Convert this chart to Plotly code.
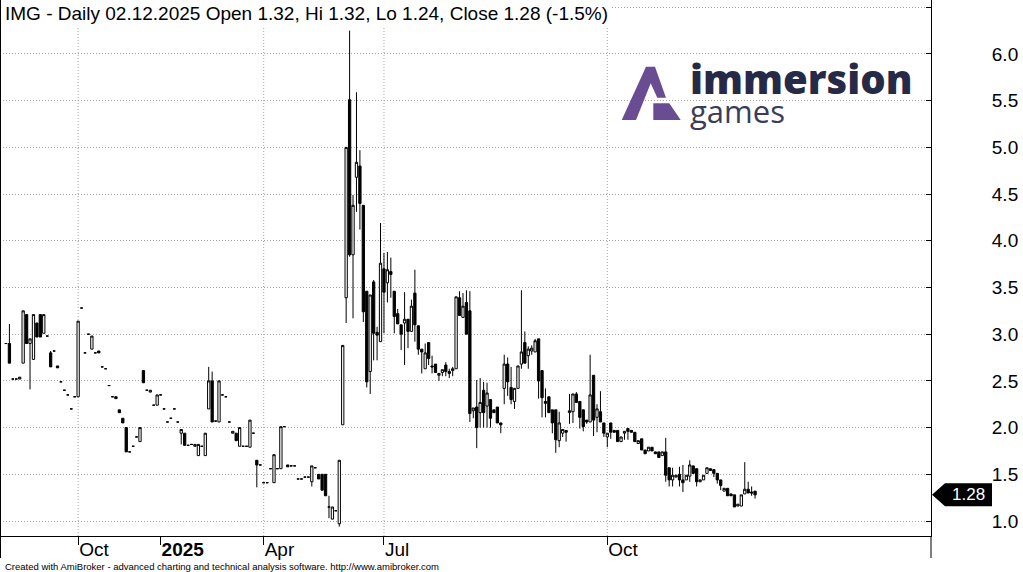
import plotly.graph_objects as go

# ---------------- data ----------------
opens = [2.90,2.90,2.52,2.52,2.52,2.69,3.21,2.90,2.73,3.12,3.21,3.01,2.98,2.80,2.82,2.66,2.49,2.40,2.35,2.20,
         2.33,2.33,3.28,2.80,3.00,2.84,2.80,2.82,2.65,2.63,2.45,2.33,2.33,2.19,2.10,2.00,1.74,1.80,1.90,1.85,
         2.61,2.40,2.38,2.24,2.24,2.35,2.20,2.06,2.10,2.20,2.06,1.94,1.94,1.81,1.82,1.80,1.70,1.80,1.70,2.20,
         2.50,2.07,2.06,2.35,2.33,2.06,1.94,1.94,1.80,1.80,1.80,1.79,1.94,1.65,1.60,1.41,1.41,1.56,1.41,1.56,
         1.56,2.01,1.60,1.59,1.59,1.45,1.45,1.47,1.47,1.42,1.57,1.50,1.50,1.50,1.15,1.02,1.11,0.97,2.03,3.39,
         5.51,3.85,4.68,4.80,4.38,3.46,2.60,3.56,3.02,2.92,3.70,3.55,3.67,3.46,3.22,3.10,3.12,3.16,3.03,3.44,
         3.09,2.84,2.63,2.91,2.66,2.68,2.56,2.59,2.67,2.60,2.61,2.63,3.39,3.18,3.34,3.25,2.18,2.22,2.16,2.40,
         2.23,2.30,2.19,2.22,2.05,2.42,2.68,2.43,2.28,2.42,2.68,2.91,2.77,2.82,2.81,2.95,2.61,2.28,2.33,2.19,
         2.19,1.86,1.94,1.97,2.16,2.17,2.36,2.28,2.19,2.08,2.06,2.56,2.11,2.17,2.05,1.90,2.05,1.97,1.97,1.85,
         1.94,1.99,1.97,1.95,1.83,1.88,1.76,1.75,1.79,1.74,1.74,1.70,1.74,1.57,1.44,1.47,1.50,1.44,1.44,1.48,
         1.59,1.56,1.42,1.44,1.51,1.56,1.55,1.51,1.44,1.32,1.35,1.29,1.28,1.16,1.16,1.29,1.34,1.31,1.32]
highs = [2.90,3.11,2.52,2.52,2.54,3.25,3.21,2.95,3.21,3.12,3.21,3.21,2.98,2.82,2.82,2.66,2.49,2.40,2.35,2.20,
         2.33,3.14,3.28,2.80,3.00,2.98,2.80,2.82,2.65,2.63,2.45,2.33,2.33,2.19,2.10,2.00,1.74,1.80,1.90,2.00,
         2.61,2.40,2.40,2.24,2.35,2.35,2.20,2.06,2.10,2.20,2.06,1.98,1.94,1.81,1.82,1.82,1.82,1.80,1.94,2.65,
         2.60,2.07,2.50,2.35,2.33,2.06,1.96,1.94,2.00,1.80,1.80,2.08,1.94,1.65,1.60,1.41,1.41,1.56,1.71,1.56,
         2.01,2.01,1.60,1.59,1.59,1.45,1.45,1.47,1.47,1.59,1.57,1.50,1.50,1.50,1.27,1.15,1.11,1.65,2.88,5.00,
         6.25,4.49,5.59,4.97,4.38,3.46,3.42,3.58,3.08,4.19,3.87,3.88,3.82,3.46,3.27,3.10,3.45,3.16,3.37,3.69,
         3.09,2.84,2.90,2.91,2.77,2.68,2.58,2.62,2.70,2.63,2.65,3.40,3.46,3.44,3.47,3.46,2.21,2.51,2.53,2.49,
         2.48,2.30,2.19,2.22,2.05,2.78,2.75,2.65,2.42,2.66,3.47,3.03,2.87,2.88,2.95,2.95,2.61,2.42,2.33,2.19,
         2.19,2.17,1.98,1.97,2.36,2.36,2.38,2.28,2.19,2.08,2.78,2.56,2.25,2.39,2.05,1.94,2.05,1.97,1.97,1.90,
         1.96,1.99,1.97,1.95,1.86,1.88,1.76,1.79,1.79,1.74,1.74,1.74,1.89,1.57,1.57,1.49,1.58,1.60,1.49,1.65,
         1.59,1.56,1.44,1.49,1.57,1.56,1.55,1.51,1.44,1.35,1.35,1.29,1.28,1.18,1.28,1.63,1.42,1.37,1.32]
lows = [2.90,2.69,2.52,2.52,2.52,2.69,2.90,2.41,2.73,2.97,2.97,3.01,2.98,2.65,2.82,2.64,2.49,2.40,2.35,2.20,
        2.33,2.33,3.28,2.80,3.00,2.84,2.80,2.80,2.65,2.63,2.45,2.33,2.31,2.16,2.05,1.74,1.74,1.80,1.90,1.85,
        2.48,2.40,2.38,2.24,2.24,2.35,2.20,2.06,2.10,2.20,2.06,1.82,1.81,1.81,1.82,1.80,1.70,1.80,1.70,2.20,
        2.06,2.07,2.06,2.35,2.33,2.06,1.94,1.86,1.80,1.80,1.80,1.79,1.94,1.36,1.60,1.41,1.41,1.56,1.41,1.56,
        1.56,2.01,1.58,1.59,1.59,1.45,1.45,1.47,1.47,1.37,1.57,1.45,1.33,1.27,1.03,1.02,1.11,0.94,2.03,3.12,
        3.83,3.17,4.31,4.12,3.13,2.43,2.36,2.72,2.72,2.92,3.01,3.34,3.39,3.01,3.11,2.83,2.67,2.85,3.03,2.92,
        2.78,2.58,2.63,2.67,2.58,2.59,2.50,2.55,2.55,2.53,2.55,2.63,3.20,3.18,3.00,2.06,2.10,1.78,2.00,2.00,
        2.00,2.00,2.16,2.05,1.94,2.25,2.34,2.25,2.20,2.42,2.63,2.69,2.63,2.78,2.81,2.31,2.11,2.11,2.16,1.94,
        1.73,1.79,1.90,1.85,2.04,2.05,2.27,1.99,1.96,2.04,2.06,1.91,1.95,2.06,1.90,1.79,1.88,1.95,1.85,1.85,
        1.87,1.87,1.95,1.85,1.83,1.76,1.72,1.75,1.75,1.72,1.68,1.70,1.42,1.37,1.37,1.47,1.37,1.31,1.44,1.42,
        1.51,1.37,1.42,1.44,1.51,1.54,1.47,1.40,1.33,1.32,1.27,1.27,1.15,1.16,1.16,1.29,1.30,1.27,1.24]
closes = [2.90,2.69,2.52,2.52,2.54,3.25,2.90,2.95,3.21,2.97,2.97,3.21,2.98,2.65,2.82,2.64,2.49,2.40,2.35,2.20,
          2.33,3.14,3.28,2.80,3.00,2.98,2.80,2.80,2.65,2.63,2.45,2.33,2.31,2.16,2.05,1.74,1.74,1.80,1.90,2.00,
          2.48,2.40,2.40,2.24,2.35,2.35,2.20,2.06,2.10,2.20,2.06,1.98,1.81,1.81,1.82,1.82,1.82,1.80,1.94,2.50,
          2.06,2.07,2.50,2.35,2.33,2.06,1.96,1.86,2.00,1.80,1.80,2.08,1.94,1.60,1.60,1.41,1.41,1.56,1.71,1.56,
          2.01,2.01,1.58,1.59,1.59,1.45,1.45,1.47,1.47,1.59,1.57,1.45,1.33,1.27,1.15,1.15,1.11,1.65,2.88,5.00,
          3.85,4.38,4.84,4.40,3.24,2.49,3.42,3.01,2.99,3.76,3.45,3.69,3.64,3.19,3.11,3.00,3.16,3.03,3.30,3.10,
          2.84,2.81,2.80,2.74,2.65,2.59,2.58,2.62,2.60,2.58,2.63,3.40,3.20,3.30,3.00,2.15,2.21,2.00,2.27,2.16,
          2.37,2.10,2.16,2.05,2.03,2.68,2.49,2.30,2.42,2.66,2.81,2.69,2.84,2.85,2.93,2.50,2.32,2.26,2.16,2.05,
          1.87,2.05,1.98,1.95,2.18,2.36,2.27,2.11,2.01,2.06,2.35,2.08,2.20,2.06,1.94,1.94,1.95,1.95,1.85,1.90,
          1.96,1.96,1.95,1.85,1.86,1.76,1.72,1.79,1.75,1.72,1.68,1.74,1.49,1.44,1.49,1.49,1.44,1.41,1.49,1.60,
          1.51,1.42,1.44,1.49,1.57,1.54,1.51,1.44,1.38,1.35,1.27,1.27,1.15,1.18,1.28,1.34,1.30,1.30,1.28]

x_tick_index = [21, 45, 75, 110, 175]
x_tick_text = ["Oct", "<b>2025</b>", "Apr", "Jul", "Oct"]
x_grid_index = [21, 75, 110, 175]
y_tick_values = [1.0, 1.5, 2.0, 2.5, 3.0, 3.5, 4.0, 4.5, 5.0, 5.5, 6.0, 6.5]

title_text = "IMG - Daily 02.12.2025 Open 1.32, Hi 1.32, Lo 1.24, Close 1.28 (-1.5%)"
footer_text = ("Created with AmiBroker - advanced charting and technical analysis software. "
               "http://www.amibroker.com")

# ---------------- layout geometry ----------------
W, H = 1023, 572
ML, MR, MT, MB = 0, 92, 0, 36
PW, PH = W - ML - MR, H - MT - MB
FONT = "Liberation Sans, Arial, sans-serif"
GRID = "#a6a6a6"


def px(x):
    return (x - ML) / PW


def py(y):
    return 1 - (y - MT) / PH


def poly(points):
    d = "M" + " L".join(f"{px(x):.5f},{py(y):.5f}" for x, y in points) + " Z"
    return d


n = len(closes)
xs = list(range(n))

fig = go.Figure()
fig.add_trace(go.Candlestick(
    x=xs, open=opens, high=highs, low=lows, close=closes,
    increasing=dict(line=dict(color="black", width=1), fillcolor="white"),
    decreasing=dict(line=dict(color="black", width=1), fillcolor="black"),
    whiskerwidth=0, hoverinfo="skip", showlegend=False,
))

shapes = []
for gx in x_grid_index:
    shapes.append(dict(type="line", xref="x", yref="paper", x0=gx, x1=gx, y0=0, y1=1,
                       line=dict(color=GRID, width=1, dash="1px,2px"), layer="below"))
# frame pieces
shapes.append(dict(type="line", xref="paper", yref="paper", x0=px(0.5), x1=px(0.5),
                   y0=py(558), y1=1, line=dict(color="black", width=1)))
shapes.append(dict(type="line", xref="paper", yref="paper", x0=1, x1=1,
                   y0=py(558), y1=0, line=dict(color="black", width=1)))
# last price marker
shapes.append(dict(type="path", xref="paper", yref="y", xsizemode="pixel", ysizemode="pixel",
                   xanchor=1, yanchor=closes[-1],
                   path="M1,0 L14,11.5 L61,11.5 L61,-11.5 L14,-11.5 Z",
                   fillcolor="black", line=dict(color="black", width=0)))
# logo mark
PURPLE = "#6a4c93"
shapes.append(dict(type="path", xref="paper", yref="paper",
                   path=poly([(621.7, 120), (646, 66.7), (655, 66.7), (666, 97.7), (657.3, 97.7),
                              (650.7, 83.3), (636, 120)]),
                   fillcolor=PURPLE, line=dict(width=0)))
shapes.append(dict(type="path", xref="paper", yref="paper",
                   path=poly([(653.3, 103.3), (669.3, 103.3), (680.7, 120), (653.3, 120)]),
                   fillcolor=PURPLE, line=dict(width=0)))

annotations = [
    dict(text=title_text, xref="paper", yref="paper", x=px(2), y=1, xanchor="left", yanchor="top",
         showarrow=False, bgcolor="white", borderpad=2,
         font=dict(family=FONT, size=19, color="black")),
    dict(text=footer_text, xref="paper", yref="paper", x=px(3), y=py(566), xanchor="left",
         yanchor="middle", showarrow=False, font=dict(family=FONT, size=9.5, color="black")),
    dict(text=f"{closes[-1]:.2f}", xref="paper", yref="y", x=px(968), y=closes[-1],
         xanchor="center", yanchor="middle", showarrow=False,
         font=dict(family=FONT, size=17, color="white")),
    dict(text="immersion", xref="paper", yref="paper", x=px(688), y=py(78), xanchor="left",
         yanchor="middle", showarrow=False,
         font=dict(family="Open Sans", size=40, color="#272a47", weight=800)),
    dict(text="games", xref="paper", yref="paper", x=px(688), y=py(111), xanchor="left",
         yanchor="middle", showarrow=False,
         font=dict(family="Open Sans", size=31, color="#3a3d5a", weight=400)),
]

fig.update_layout(
    width=W, height=H, margin=dict(l=ML, r=MR, t=MT, b=MB, autoexpand=False),
    paper_bgcolor="white", plot_bgcolor="white", boxgap=0.05,
    shapes=shapes, annotations=annotations, showlegend=False,
    xaxis=dict(range=[-1.74, 269.2], rangeslider=dict(visible=False), showgrid=False,
               zeroline=False, tickmode="array", tickvals=x_tick_index, ticktext=x_tick_text,
               ticks="outside", ticklen=8, tickcolor="black", showline=True, linecolor="black",
               linewidth=1, ticklabelposition="outside right", automargin=False,
               ticklabelstandoff=-4,
               tickfont=dict(family=FONT, size=19, color="black")),
    yaxis=dict(side="right", range=[0.8394, 6.578], tickmode="array", tickvals=y_tick_values,
               ticktext=[f"{v:.1f}" for v in y_tick_values], showgrid=True, gridcolor=GRID,
               griddash="1px,2px", gridwidth=1, zeroline=False, ticks="inside", ticklen=5,
               tickcolor="black", showline=True, linecolor="black", linewidth=1,
               automargin=False, ticklabelstandoff=56,
               tickfont=dict(family=FONT, size=19, color="black")),
)

fig.write_html("out.html", config={"displayModeBar": False},
               post_script="document.body.style.margin='0';"
                           "document.body.style.overflow='hidden';")
